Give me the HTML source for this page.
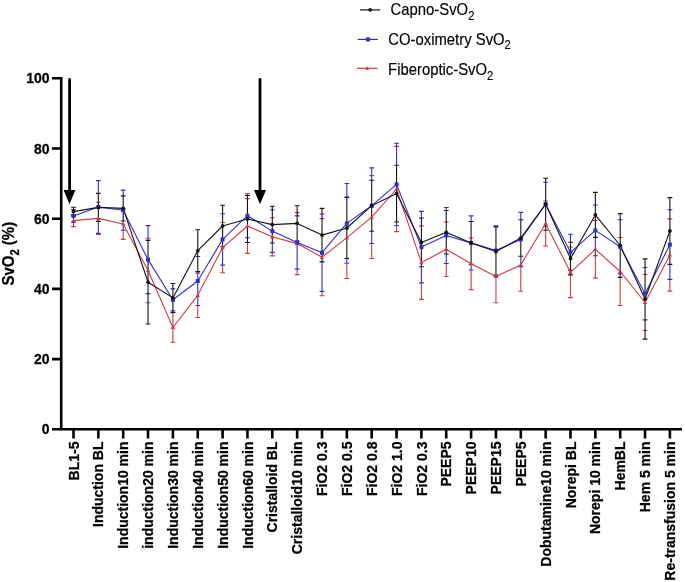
<!DOCTYPE html>
<html><head><meta charset="utf-8"><style>
html,body{margin:0;padding:0;background:#fff;}
svg{display:block;will-change:transform;}
.tl{font-family:"Liberation Sans",sans-serif;font-weight:bold;font-size:14px;fill:#000;stroke:#000;stroke-width:0.25px;}
.lg{font-family:"Liberation Sans",sans-serif;font-size:14.85px;fill:#000;stroke:#000;stroke-width:0.15px;}
</style></head><body>
<svg width="685" height="582" viewBox="0 0 685 582">
<path d="M61.2 77V429.3M52 429.3H682" stroke="#000" stroke-width="2.6" fill="none"/>
<path d="M52 78.3H61M52 148.5H61M52 218.7H61M52 288.9H61M52 359.1H61" stroke="#000" stroke-width="2.6" fill="none"/>
<path d="M73.5 429V438.5M98.35 429V438.5M123.2 429V438.5M148.05 429V438.5M172.9 429V438.5M197.75 429V438.5M222.6 429V438.5M247.45 429V438.5M272.3 429V438.5M297.15 429V438.5M322 429V438.5M346.85 429V438.5M371.7 429V438.5M396.55 429V438.5M421.4 429V438.5M446.25 429V438.5M471.1 429V438.5M495.95 429V438.5M520.8 429V438.5M545.65 429V438.5M570.5 429V438.5M595.35 429V438.5M620.2 429V438.5M645.05 429V438.5M669.9 429V438.5" stroke="#000" stroke-width="2.6" fill="none"/>
<text transform="translate(49.5 83.4) scale(1 1.03)" text-anchor="end" class="tl">100</text>
<text transform="translate(49.5 153.6) scale(1 1.03)" text-anchor="end" class="tl">80</text>
<text transform="translate(49.5 223.8) scale(1 1.03)" text-anchor="end" class="tl">60</text>
<text transform="translate(49.5 294) scale(1 1.03)" text-anchor="end" class="tl">40</text>
<text transform="translate(49.5 364.2) scale(1 1.03)" text-anchor="end" class="tl">20</text>
<text transform="translate(49.5 434.4) scale(1 1.03)" text-anchor="end" class="tl">0</text>
<text transform="translate(13.8 285.6) rotate(-90) scale(1 1.05)" class="tl" style="font-size:15px">SvO<tspan font-size="11.3" dy="4.5">2</tspan><tspan dy="-4.5"> (%)</tspan></text>
<text transform="translate(78.6 441.5) rotate(-90) scale(1 1.03)" text-anchor="end" class="tl">BL1-5</text>
<text transform="translate(103.45 441.5) rotate(-90) scale(1 1.03)" text-anchor="end" class="tl">Induction BL</text>
<text transform="translate(128.3 441.5) rotate(-90) scale(1 1.03)" text-anchor="end" class="tl">Induction10 min</text>
<text transform="translate(153.15 441.5) rotate(-90) scale(1 1.03)" text-anchor="end" class="tl">induction20 min</text>
<text transform="translate(178 441.5) rotate(-90) scale(1 1.03)" text-anchor="end" class="tl">Induction30 min</text>
<text transform="translate(202.85 441.5) rotate(-90) scale(1 1.03)" text-anchor="end" class="tl">Induction40 min</text>
<text transform="translate(227.7 441.5) rotate(-90) scale(1 1.03)" text-anchor="end" class="tl">Induction50 min</text>
<text transform="translate(252.55 441.5) rotate(-90) scale(1 1.03)" text-anchor="end" class="tl">Induction60 min</text>
<text transform="translate(277.4 441.5) rotate(-90) scale(1 1.03)" text-anchor="end" class="tl">Cristalloid BL</text>
<text transform="translate(302.25 441.5) rotate(-90) scale(1 1.03)" text-anchor="end" class="tl">Cristalloid10 min</text>
<text transform="translate(327.1 441.5) rotate(-90) scale(1 1.03)" text-anchor="end" class="tl">FiO2 0.3</text>
<text transform="translate(351.95 441.5) rotate(-90) scale(1 1.03)" text-anchor="end" class="tl">FiO2 0.5</text>
<text transform="translate(376.8 441.5) rotate(-90) scale(1 1.03)" text-anchor="end" class="tl">FiO2 0.8</text>
<text transform="translate(401.65 441.5) rotate(-90) scale(1 1.03)" text-anchor="end" class="tl">FiO2 1.0</text>
<text transform="translate(426.5 441.5) rotate(-90) scale(1 1.03)" text-anchor="end" class="tl">FiO2 0.3</text>
<text transform="translate(451.35 441.5) rotate(-90) scale(1 1.03)" text-anchor="end" class="tl">PEEP5</text>
<text transform="translate(476.2 441.5) rotate(-90) scale(1 1.03)" text-anchor="end" class="tl">PEEP10</text>
<text transform="translate(501.05 441.5) rotate(-90) scale(1 1.03)" text-anchor="end" class="tl">PEEP15</text>
<text transform="translate(525.9 441.5) rotate(-90) scale(1 1.03)" text-anchor="end" class="tl">PEEP5</text>
<text transform="translate(550.75 441.5) rotate(-90) scale(1 1.03)" text-anchor="end" class="tl">Dobutamine10 min</text>
<text transform="translate(575.6 441.5) rotate(-90) scale(1 1.03)" text-anchor="end" class="tl">Norepi BL</text>
<text transform="translate(600.45 441.5) rotate(-90) scale(1 1.03)" text-anchor="end" class="tl">Norepi 10 min</text>
<text transform="translate(625.3 441.5) rotate(-90) scale(1 1.03)" text-anchor="end" class="tl">HemBL</text>
<text transform="translate(650.15 441.5) rotate(-90) scale(1 1.03)" text-anchor="end" class="tl">Hem 5 min</text>
<text transform="translate(675 441.5) rotate(-90) scale(1 1.03)" text-anchor="end" class="tl">Re-transfusion 5 min</text>
<path d="M73.5 222.65V226.6M71.1 214.6H75.9M71.1 226.6H75.9M98.35 233.7V234.5M95.95 202.3H100.75M95.95 234.5H100.75M123.2 230.6V239.4M120.8 208.6H125.6M120.8 239.4H125.6M145.65 238.3H150.45M145.65 302.7H150.45M172.9 312.8V342.2M170.5 312.8H175.3M170.5 342.2H175.3M197.75 305.8V317.45M195.35 273.15H200.15M195.35 317.45H200.15M222.6 265.4V272.7M220.2 222.5H225M220.2 272.7H225M247.45 242.75V253.4M245.05 198.6H249.85M245.05 253.4H249.85M272.3 252.7V255.9M269.9 217.7H274.7M269.9 255.9H274.7M297.15 269.4V274.6M294.75 212.6H299.55M294.75 274.6H299.55M322 291.7V295.8M319.6 218.6H324.4M319.6 295.8H324.4M346.85 263.55V278.45M344.45 196.75H349.25M344.45 278.45H349.25M371.7 243.85V258.55M369.3 175.65H374.1M369.3 258.55H374.1M396.55 225.8V231.6M394.15 146.4H398.95M394.15 231.6H398.95M421.4 283.15V299.35M419 225.85H423.8M419 299.35H423.8M446.25 263.85V276.55M443.85 222.05H448.65M443.85 276.55H448.65M471.1 270.25V289.65M468.7 237.95H473.5M468.7 289.65H473.5M495.95 276.4V302.7M493.55 250.1H498.35M493.55 302.7H498.35M520.8 266.9V291.2M518.4 238.6H523.2M518.4 291.2H523.2M545.65 230.5V246M543.25 201H548.05M543.25 246H548.05M570.5 275.2V297.65M568.1 246.95H572.9M568.1 297.65H572.9M595.35 256.05V278.1M592.95 220.5H597.75M592.95 278.1H597.75M620.2 277.65V305.45M617.8 237.55H622.6M617.8 305.45H622.6M642.65 274.5H647.45M642.65 330.5H647.45M669.9 279.7V291.15M667.5 218.85H672.3M667.5 291.15H672.3" stroke="#d03a46" stroke-width="1.1" fill="none"/>
<path d="M73.5 216.2V222.35M71.1 209.65H75.9M71.1 222.35H75.9M98.35 180.6V193.1M98.35 221.7V233.4M95.95 180.6H100.75M95.95 233.4H100.75M123.2 190.1V195.55M123.2 221.25V230.3M120.8 190.1H125.6M120.8 230.3H125.6M148.05 225.6V240.1M145.65 225.6H150.45M145.65 293.6H150.45M170.5 288.9H175.3M170.5 310.7H175.3M197.75 271.9V305.5M195.35 256.5H200.15M195.35 305.5H200.15M222.6 247.1V265.1M220.2 213.7H225M220.2 265.1H225M247.45 193.7V195.15M245.05 193.7H249.85M245.05 237.7H249.85M272.3 243.25V252.4M269.9 209.8H274.7M269.9 252.4H274.7M297.15 241.3V269.1M294.75 215.9H299.55M294.75 269.1H299.55M322 262.15V291.4M319.6 214H324.4M319.6 291.4H324.4M346.85 183.55V197.25M346.85 258.75V263.25M344.45 183.55H349.25M344.45 263.25H349.25M371.7 167.85V179.9M371.7 231.5V243.55M369.3 167.85H374.1M369.3 243.55H374.1M396.55 143.3V164.95M396.55 222.25V225.5M394.15 143.3H398.95M394.15 225.5H398.95M421.4 211.35V217.75M421.4 267.05V282.85M419 211.35H423.8M419 282.85H423.8M446.25 207.45V210.25M446.25 254.35V263.55M443.85 207.45H448.65M443.85 263.55H448.65M471.1 215.85V221.2M471.1 264.6V269.95M468.7 215.85H473.5M468.7 269.95H473.5M495.95 225.9V226.6M493.55 225.9H498.35M493.55 275.1H498.35M520.8 212.4V219.4M520.8 256.6V266.6M518.4 212.4H523.2M518.4 266.6H523.2M543.25 182.3H548.05M543.25 226.3H548.05M570.5 234.25V242M568.1 234.25H572.9M568.1 270.35H572.9M595.35 237.7V255.75M592.95 205.05H597.75M592.95 255.75H597.75M617.8 219.8H622.6M617.8 273.8H622.6M642.65 267.5H647.45M642.65 319.9H647.45M669.9 264.65V279.4M667.5 209.8H672.3M667.5 279.4H672.3" stroke="#3030cc" stroke-width="1.1" fill="none"/>
<path d="M73.5 207.3V215.9M71.1 207.3H75.9M71.1 215.9H75.9M98.35 193.4V221.4M95.95 193.4H100.75M95.95 221.4H100.75M123.2 195.85V220.95M120.8 195.85H125.6M120.8 220.95H125.6M148.05 240.4V324M145.65 240.4H150.45M145.65 324H150.45M172.9 283.45V312.35M170.5 283.45H175.3M170.5 312.35H175.3M197.75 229.8V271.6M195.35 229.8H200.15M195.35 271.6H200.15M222.6 205.2V246.8M220.2 205.2H225M220.2 246.8H225M247.45 195.45V242.45M245.05 195.45H249.85M245.05 242.45H249.85M272.3 206.25V242.95M269.9 206.25H274.7M269.9 242.95H274.7M297.15 205.8V241M294.75 205.8H299.55M294.75 241H299.55M322 208.35V261.85M319.6 208.35H324.4M319.6 261.85H324.4M346.85 197.55V258.45M344.45 197.55H349.25M344.45 258.45H349.25M371.7 180.2V231.2M369.3 180.2H374.1M369.3 231.2H374.1M396.55 165.25V221.95M394.15 165.25H398.95M394.15 221.95H398.95M421.4 218.05V266.75M419 218.05H423.8M419 266.75H423.8M446.25 210.55V254.05M443.85 210.55H448.65M443.85 254.05H448.65M471.1 221.5V264.3M468.7 221.5H473.5M468.7 264.3H473.5M495.95 226.9V276.1M493.55 226.9H498.35M493.55 276.1H498.35M520.8 219.7V256.3M518.4 219.7H523.2M518.4 256.3H523.2M545.65 178.2V230.2M543.25 178.2H548.05M543.25 230.2H548.05M570.5 242.3V274.9M568.1 242.3H572.9M568.1 274.9H572.9M595.35 192.4V237.4M592.95 192.4H597.75M592.95 237.4H597.75M620.2 213.65V277.35M617.8 213.65H622.6M617.8 277.35H622.6M645.05 258.85V339.15M642.65 258.85H647.45M642.65 339.15H647.45M669.9 197.65V264.35M667.5 197.65H672.3M667.5 264.35H672.3" stroke="#141414" stroke-width="1.1" fill="none"/>
<polyline points="73.5,220.6 98.35,218.4 123.2,224 148.05,270.5 172.9,327.5 197.75,295.3 222.6,247.6 247.45,226 272.3,236.8 297.15,243.6 322,257.2 346.85,237.6 371.7,217.1 396.55,189 421.4,262.6 446.25,249.3 471.1,263.8 495.95,276.4 520.8,264.9 545.65,223.5 570.5,272.3 595.35,249.3 620.2,271.5 645.05,302.5 669.9,255" stroke="#d03a46" stroke-width="1.1" fill="none" stroke-linejoin="round"/>
<polyline points="73.5,216 98.35,207 123.2,210.2 148.05,259.6 172.9,299.8 197.75,281 222.6,239.4 247.45,215.7 272.3,231.1 297.15,242.5 322,252.7 346.85,223.4 371.7,205.7 396.55,184.4 421.4,247.1 446.25,235.5 471.1,242.9 495.95,250.5 520.8,239.5 545.65,204.3 570.5,252.3 595.35,230.4 620.2,246.8 645.05,293.7 669.9,244.6" stroke="#3030cc" stroke-width="1.1" fill="none" stroke-linejoin="round"/>
<polyline points="73.5,211.6 98.35,207.4 123.2,208.4 148.05,282.2 172.9,297.9 197.75,250.7 222.6,226 247.45,218.95 272.3,224.6 297.15,223.4 322,235.1 346.85,228 371.7,205.7 396.55,193.6 421.4,242.4 446.25,232.3 471.1,242.9 495.95,251.5 520.8,238 545.65,204.2 570.5,258.6 595.35,214.9 620.2,245.5 645.05,299 669.9,231" stroke="#141414" stroke-width="1.1" fill="none" stroke-linejoin="round"/>
<g fill="#d03a46"><path d="M73.5 218.4L75.7 222.2L71.3 222.2Z"/><path d="M98.35 216.2L100.55 220L96.15 220Z"/><path d="M123.2 221.8L125.4 225.6L121 225.6Z"/><path d="M148.05 268.3L150.25 272.1L145.85 272.1Z"/><path d="M172.9 325.3L175.1 329.1L170.7 329.1Z"/><path d="M197.75 293.1L199.95 296.9L195.55 296.9Z"/><path d="M222.6 245.4L224.8 249.2L220.4 249.2Z"/><path d="M247.45 223.8L249.65 227.6L245.25 227.6Z"/><path d="M272.3 234.6L274.5 238.4L270.1 238.4Z"/><path d="M297.15 241.4L299.35 245.2L294.95 245.2Z"/><path d="M322 255L324.2 258.8L319.8 258.8Z"/><path d="M346.85 235.4L349.05 239.2L344.65 239.2Z"/><path d="M371.7 214.9L373.9 218.7L369.5 218.7Z"/><path d="M396.55 186.8L398.75 190.6L394.35 190.6Z"/><path d="M421.4 260.4L423.6 264.2L419.2 264.2Z"/><path d="M446.25 247.1L448.45 250.9L444.05 250.9Z"/><path d="M471.1 261.6L473.3 265.4L468.9 265.4Z"/><path d="M495.95 274.2L498.15 278L493.75 278Z"/><path d="M520.8 262.7L523 266.5L518.6 266.5Z"/><path d="M545.65 221.3L547.85 225.1L543.45 225.1Z"/><path d="M570.5 270.1L572.7 273.9L568.3 273.9Z"/><path d="M595.35 247.1L597.55 250.9L593.15 250.9Z"/><path d="M620.2 269.3L622.4 273.1L618 273.1Z"/><path d="M645.05 300.3L647.25 304.1L642.85 304.1Z"/><path d="M669.9 252.8L672.1 256.6L667.7 256.6Z"/></g>
<g fill="#3030cc"><rect x="71.5" y="214" width="4" height="4"/><rect x="96.35" y="205" width="4" height="4"/><rect x="121.2" y="208.2" width="4" height="4"/><rect x="146.05" y="257.6" width="4" height="4"/><rect x="170.9" y="297.8" width="4" height="4"/><rect x="195.75" y="279" width="4" height="4"/><rect x="220.6" y="237.4" width="4" height="4"/><rect x="245.45" y="213.7" width="4" height="4"/><rect x="270.3" y="229.1" width="4" height="4"/><rect x="295.15" y="240.5" width="4" height="4"/><rect x="320" y="250.7" width="4" height="4"/><rect x="344.85" y="221.4" width="4" height="4"/><rect x="369.7" y="203.7" width="4" height="4"/><rect x="394.55" y="182.4" width="4" height="4"/><rect x="419.4" y="245.1" width="4" height="4"/><rect x="444.25" y="233.5" width="4" height="4"/><rect x="469.1" y="240.9" width="4" height="4"/><rect x="493.95" y="248.5" width="4" height="4"/><rect x="518.8" y="237.5" width="4" height="4"/><rect x="543.65" y="202.3" width="4" height="4"/><rect x="568.5" y="250.3" width="4" height="4"/><rect x="593.35" y="228.4" width="4" height="4"/><rect x="618.2" y="244.8" width="4" height="4"/><rect x="643.05" y="291.7" width="4" height="4"/><rect x="667.9" y="242.6" width="4" height="4"/></g>
<g fill="#141414"><circle cx="73.5" cy="211.6" r="1.9"/><circle cx="98.35" cy="207.4" r="1.9"/><circle cx="123.2" cy="208.4" r="1.9"/><circle cx="148.05" cy="282.2" r="1.9"/><circle cx="172.9" cy="297.9" r="1.9"/><circle cx="197.75" cy="250.7" r="1.9"/><circle cx="222.6" cy="226" r="1.9"/><circle cx="247.45" cy="218.95" r="1.9"/><circle cx="272.3" cy="224.6" r="1.9"/><circle cx="297.15" cy="223.4" r="1.9"/><circle cx="322" cy="235.1" r="1.9"/><circle cx="346.85" cy="228" r="1.9"/><circle cx="371.7" cy="205.7" r="1.9"/><circle cx="396.55" cy="193.6" r="1.9"/><circle cx="421.4" cy="242.4" r="1.9"/><circle cx="446.25" cy="232.3" r="1.9"/><circle cx="471.1" cy="242.9" r="1.9"/><circle cx="495.95" cy="251.5" r="1.9"/><circle cx="520.8" cy="238" r="1.9"/><circle cx="545.65" cy="204.2" r="1.9"/><circle cx="570.5" cy="258.6" r="1.9"/><circle cx="595.35" cy="214.9" r="1.9"/><circle cx="620.2" cy="245.5" r="1.9"/><circle cx="645.05" cy="299" r="1.9"/><circle cx="669.9" cy="231" r="1.9"/></g>
<path d="M69.6 79.3V191M260 79.3V191" stroke="#000" stroke-width="2.8" stroke-linecap="round" fill="none"/>
<path d="M63.6 190H75.4L69.5 204.2ZM254 190H266L260 204.2Z" fill="#000"/>
<path d="M360 9.9H380.2" stroke="#141414" stroke-width="1.2"/>
<circle cx="370.1" cy="9.9" r="1.8" fill="#141414"/>
<text transform="translate(390.6 14.9) scale(1 1.06)" class="lg">Capno-SvO<tspan font-size="11.2" dy="4.6">2</tspan></text>
<path d="M357.6 39.4H377.8" stroke="#3030cc" stroke-width="1.2"/>
<rect x="366" y="37.4" width="4" height="4" fill="#3030cc"/>
<text transform="translate(388.3 44.6) scale(1 1.06)" class="lg">CO-oximetry SvO<tspan font-size="11.2" dy="4.6">2</tspan></text>
<path d="M357 68.3H377.5" stroke="#d03a46" stroke-width="1.2"/>
<path d="M367.2 66.3L369.2 69.8L365.2 69.8Z" fill="#d03a46"/>
<text transform="translate(388.1 75) scale(1 1.06)" class="lg">Fiberoptic-SvO<tspan font-size="11.2" dy="4.6">2</tspan></text>
</svg>
</body></html>
